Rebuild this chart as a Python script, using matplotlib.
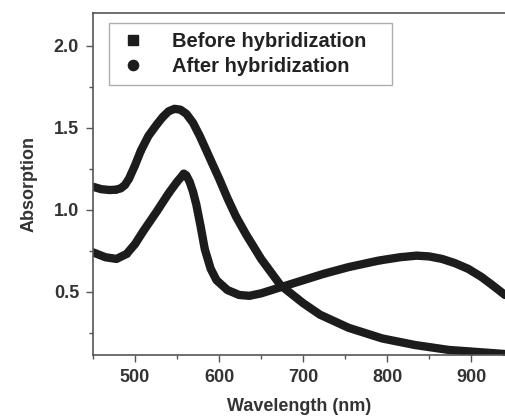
import numpy as np
import matplotlib.pyplot as plt
from matplotlib.ticker import MultipleLocator

# Absorption spectra (wavelength nm, absorption)
before_wl = [450, 465, 478, 490, 500, 510, 526, 540, 550, 555, 558, 561, 565, 569,
             573, 578, 583, 590, 597, 610, 624, 636, 650, 675, 700, 725, 754,
             790, 815, 835, 850, 865, 880, 896, 912, 925, 940]
before_abs = [0.74, 0.71, 0.70, 0.73, 0.79, 0.87, 0.99, 1.10, 1.17, 1.20, 1.22, 1.21, 1.17, 1.11,
              1.03, 0.90, 0.76, 0.64, 0.57, 0.51, 0.48, 0.475, 0.49, 0.53, 0.57, 0.61, 0.65,
              0.69, 0.71, 0.72, 0.715, 0.70, 0.675, 0.64, 0.59, 0.54, 0.48]

after_wl = [450, 460, 470, 477, 483, 488, 493, 500, 507, 516, 526, 533, 540, 547, 554, 561,
            569, 577, 585, 592, 600, 610, 620, 632, 650, 673, 700, 720, 754,
            794, 833, 873, 900, 940]
after_abs = [1.14, 1.125, 1.12, 1.122, 1.13, 1.15, 1.19, 1.27, 1.36, 1.45, 1.52, 1.565, 1.60, 1.615, 1.61, 1.585,
             1.53, 1.45, 1.36, 1.28, 1.19, 1.07, 0.96, 0.85, 0.70, 0.54, 0.43, 0.36, 0.28,
             0.215, 0.175, 0.145, 0.135, 0.12]

xticks = [500, 600, 700, 800, 900]
yticks = [0.5, 1.0, 1.5, 2.0]

plt.rcParams['font.family'] = ['Liberation Sans', 'DejaVu Sans']
plt.rcParams['font.weight'] = 'bold'

fig = plt.figure(figsize=(5.05, 4.16), dpi=100)
ax = fig.add_axes([0.184, 0.147, 0.816, 0.822])

ink = '#1c1c1c'
for wl, ab in [(before_wl, before_abs), (after_wl, after_abs)]:
    ax.plot(wl, ab, '-', color=ink, lw=6.0, solid_capstyle='round', solid_joinstyle='round')

# markers sit inside the thick stroke; they carry the legend symbols
ax.plot(before_wl, before_abs, ls='none', marker='s', ms=3.5, color=ink,
        label='Before hybridization')
ax.plot(after_wl, after_abs, ls='none', marker='o', ms=3.5, color=ink,
        label='After hybridization')

ax.set_xlim(450, 940)
ax.set_ylim(0.115, 2.2)
ax.set_xticks(xticks)
ax.set_yticks(yticks)
ax.xaxis.set_minor_locator(MultipleLocator(50))
ax.yaxis.set_minor_locator(MultipleLocator(0.25))

axis_col = '#555555'
ax.tick_params(which='major', direction='out', length=5, width=1, color=axis_col,
               labelsize=13, labelcolor='#333333', pad=5)
ax.tick_params(which='minor', direction='out', length=3, width=1, color=axis_col)
for t in ax.get_xticklabels() + ax.get_yticklabels():
    t.set_fontweight('bold')

for side in ['left', 'bottom', 'top']:
    ax.spines[side].set_color(axis_col)
    ax.spines[side].set_linewidth(1.2)
ax.spines['right'].set_visible(False)

ax.set_xlabel('Wavelength (nm)', fontsize=13, fontweight='bold', color='#333333', labelpad=9)
ax.set_ylabel('Absorption', fontsize=13, fontweight='bold', color='#333333', labelpad=12)

leg = ax.legend(loc='upper left', bbox_to_anchor=(0.039, 0.789, 0.686, 0.181), mode='expand',
                frameon=True, fancybox=False, edgecolor='#999999', fontsize=14.5,
                markerscale=2.1, handletextpad=1.2, borderpad=0.45, labelspacing=0.3,
                handlelength=1.5, borderaxespad=0)
leg.get_frame().set_linewidth(1.0)
for t in leg.get_texts():
    t.set_color('#222222')
    t.set_fontweight('bold')

fig.savefig('out.png', dpi=100)
